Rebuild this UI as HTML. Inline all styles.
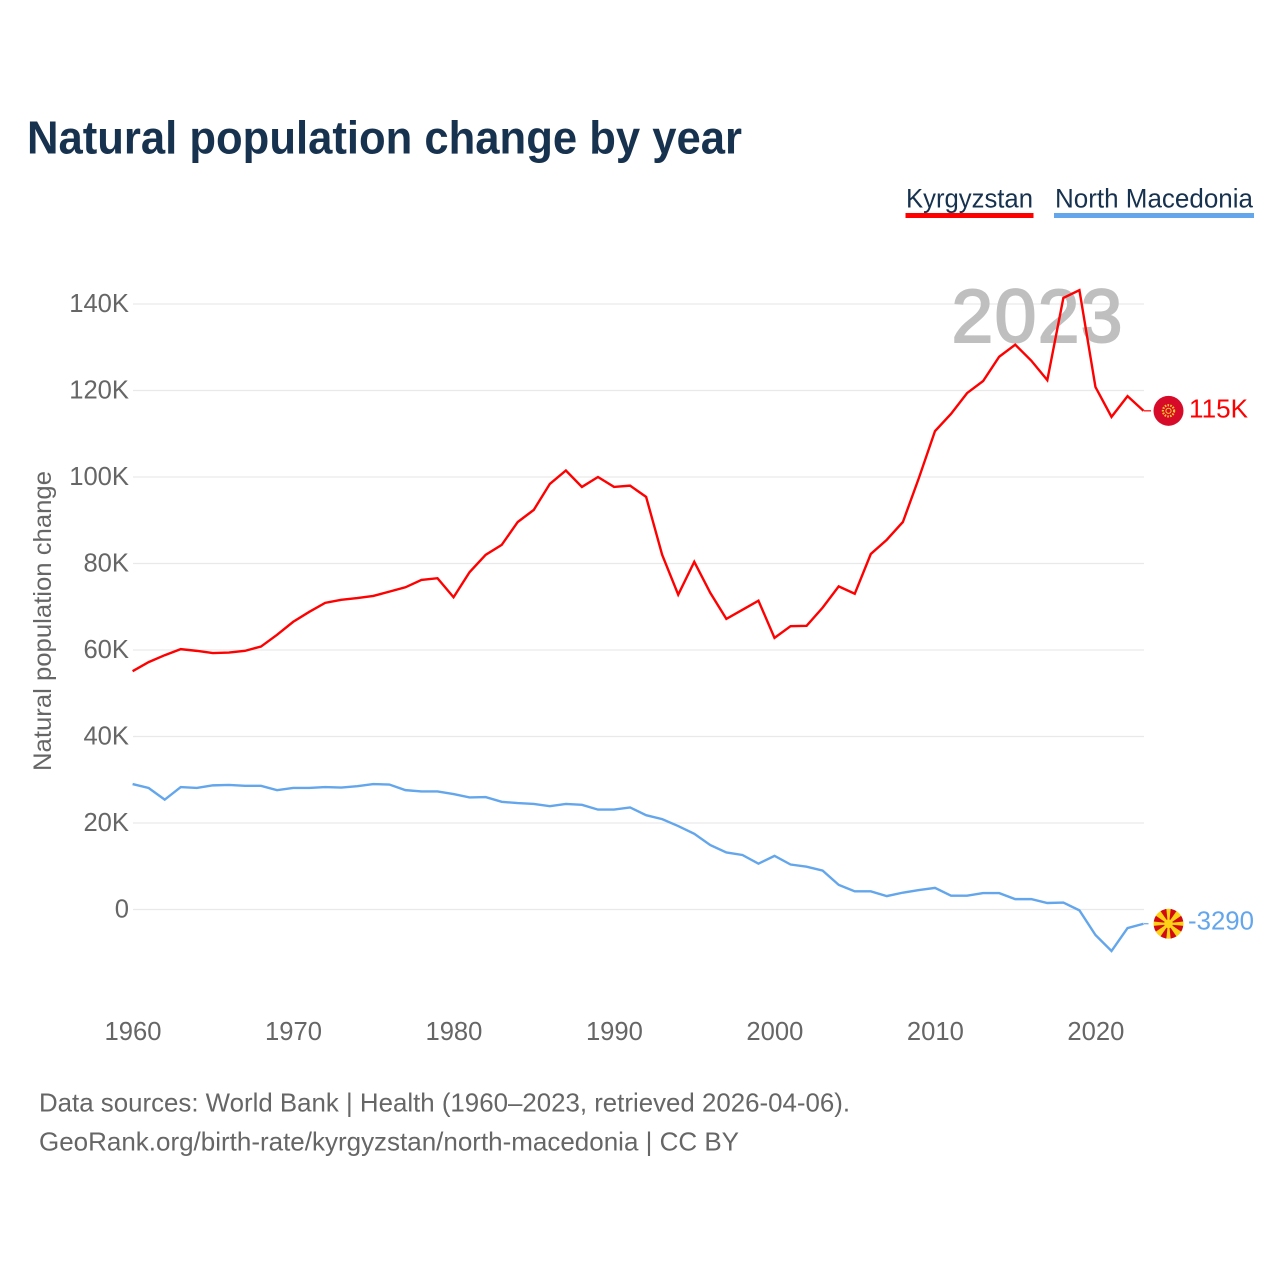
<!DOCTYPE html>
<html lang="en">
<head>
<meta charset="utf-8">
<title>Natural population change by year</title>
<style>
html,body{margin:0;padding:0;background:#fff;width:1280px;height:1280px;overflow:hidden}
svg{display:block;font-family:"Liberation Sans",sans-serif}
</style>
</head>
<body>
<svg id="chart" xmlns="http://www.w3.org/2000/svg" width="1280" height="1280" viewBox="0 0 1280 1280">
  <rect width="1280" height="1280" fill="#ffffff"/>
  <text x="27" y="153.5" font-size="46" font-weight="700" fill="#17324f" textLength="715" lengthAdjust="spacingAndGlyphs">Natural population change by year</text>
  <g>
    <text x="906" y="207.5" font-size="27" fill="#17324f" textLength="127" lengthAdjust="spacingAndGlyphs">Kyrgyzstan</text>
    <rect x="905.5" y="213" width="128" height="5" fill="#ff0000"/>
  </g>
  <g>
    <text x="1055" y="207.5" font-size="27" fill="#17324f" textLength="198" lengthAdjust="spacingAndGlyphs">North Macedonia</text>
    <rect x="1054" y="213" width="200" height="5" fill="#63a6ec"/>
  </g>
  <g id="grid"></g>
  <text x="1037" y="342" font-size="75" font-weight="400" fill="#bfbfbf" stroke="#bfbfbf" stroke-width="2" text-anchor="middle" textLength="171" lengthAdjust="spacing">2023</text>
  <g id="yticks"></g>
  <g id="xticks"></g>
  <text transform="translate(51 621) rotate(-90)" font-size="25" fill="#666666" text-anchor="middle" textLength="300" lengthAdjust="spacingAndGlyphs">Natural population change</text>
  <g id="series"></g>
  <g id="ends"></g>
  <text x="39" y="1111.5" font-size="26" fill="#666666" textLength="811" lengthAdjust="spacingAndGlyphs">Data sources: World Bank | Health (1960–2023, retrieved 2026-04-06).</text>
  <text x="39" y="1150.5" font-size="26" fill="#666666" textLength="700" lengthAdjust="spacingAndGlyphs">GeoRank.org/birth-rate/kyrgyzstan/north-macedonia | CC BY</text>
</svg>
<script>
const startYear = 1960;
const xTickYears = [1960, 1970, 1980, 1990, 2000, 2010, 2020];
const yTickValues = [0, 20000, 40000, 60000, 80000, 100000, 120000, 140000];
const yTickLabels = ['0', '20K', '40K', '60K', '80K', '100K', '120K', '140K'];
const kyrgyzstanValues = [55100,57200,58800,60200,59800,59300,59400,59800,60800,63500,66500,68800,70900,71600,72000,72500,73500,74500,76200,76600,72200,78000,82000,84300,89600,92400,98400,101500,97700,100000,97700,98000,95400,82000,72800,80400,73200,67200,69300,71400,62800,65500,65600,69800,74700,73000,82200,85500,89600,99800,110600,114600,119400,122200,127800,130600,126900,122400,141400,143200,120800,113900,118700,115300];
const macedoniaValues = [29000,28100,25400,28300,28100,28700,28800,28600,28600,27600,28100,28100,28300,28200,28500,29000,28900,27600,27300,27300,26700,25900,26000,24900,24600,24400,23900,24400,24200,23100,23100,23600,21800,20900,19300,17500,14900,13200,12600,10600,12400,10400,9900,9000,5700,4200,4200,3100,3900,4500,5000,3200,3200,3800,3800,2400,2400,1500,1600,-200,-5900,-9600,-4300,-3290];
const kyrgyzstanEndLabel = '115K';
const macedoniaEndLabel = '-3290';

const NS = 'http://www.w3.org/2000/svg';
const xScale = year => 132.6 + (year - 1960) * (1143.6 - 132.6) / 63;
const yScale = value => 909.5 - value * (909.5 - 304) / 140000;
function make(tag, attrs, parent, text) {
  const el = document.createElementNS(NS, tag);
  for (const k in attrs) el.setAttribute(k, attrs[k]);
  if (text !== undefined) el.textContent = text;
  parent.appendChild(el);
  return el;
}
const grid = document.getElementById('grid');
const yticks = document.getElementById('yticks');
const xticks = document.getElementById('xticks');
const series = document.getElementById('series');
const ends = document.getElementById('ends');

yTickValues.forEach((v, i) => {
  const line = make('line', {x1: 133, x2: 1144, y1: yScale(v), y2: yScale(v), stroke: '#e9e9e9', 'stroke-width': 1.3}, grid);
  
  
  const label = make('text', {x: 129, y: yScale(v) + 8, 'font-size': 25.6, fill: '#666666', 'text-anchor': 'end'}, yticks, yTickLabels[i]);
  
  
});
xTickYears.forEach(y => {
  const label = make('text', {x: xScale(y) + 0.4, y: 1040, 'font-size': 25.6, fill: '#666666', 'text-anchor': 'middle'}, xticks, String(y));
  
  
});
function pathFor(values) {
  return values.map((v, i) => (i ? 'L' : 'M') + xScale(startYear + i).toFixed(2) + ' ' + yScale(v).toFixed(2)).join(' ');
}
const kgLine = make('path', {d: pathFor(kyrgyzstanValues), fill: 'none', stroke: '#ff0000', 'stroke-width': 2.4, 'stroke-linejoin': 'miter'}, series);


const mkLine = make('path', {d: pathFor(macedoniaValues), fill: 'none', stroke: '#63a6ec', 'stroke-width': 2.4, 'stroke-linejoin': 'miter'}, series);



function endMarker(value, colour, text, textX, textW, textDy) {
  const cy = yScale(value);
  const g = make('g', {}, ends);
  const lead = make('line', {x1: 1144, x2: 1151, y1: cy, y2: cy, stroke: colour, 'stroke-width': 1.2}, g);
  
  
  const label = make('text', {x: textX, y: cy + textDy, 'font-size': 26, fill: colour, textLength: textW, lengthAdjust: 'spacingAndGlyphs'}, g, text);
  
  
  return {g, cy};
}
const kgEnd = endMarker(kyrgyzstanValues[kyrgyzstanValues.length - 1], '#ff0000', kyrgyzstanEndLabel, 1189, 59, 6.6);
const kgFlag = make('g', {transform: 'translate(1168.5 ' + kgEnd.cy + ')'}, kgEnd.g);


make('circle', {r: 15, fill: '#d80a2a'}, kgFlag);
make('circle', {r: 5.6, fill: 'none', stroke: '#f5c828', 'stroke-width': 2.2, 'stroke-dasharray': '1.6 1.2'}, kgFlag);
make('circle', {r: 2.6, fill: 'none', stroke: '#f5c828', 'stroke-width': 1}, kgFlag);

const mkEnd = endMarker(macedoniaValues[macedoniaValues.length - 1], '#63a6ec', macedoniaEndLabel, 1188, 66, 5.8);
const mkFlag = make('g', {transform: 'translate(1168.5 ' + mkEnd.cy + ')'}, mkEnd.g);


make('circle', {r: 15, fill: '#d20a11'}, mkFlag);
[0, 45, 90, 135, 180, 225, 270, 315].forEach(a => {
  const wide = a % 90 === 0 ? 2.2 : 3.4;
  make('polygon', {points: '-0.6,0 0.6,0 ' + wide + ',-15 ' + (-wide) + ',-15', fill: '#fcd116', transform: 'rotate(' + a + ')'}, mkFlag);
});
make('circle', {r: 4.4, fill: '#fcd116'}, mkFlag);
const mask = make('circle', {r: 17.5, fill: 'none', stroke: '#ffffff', 'stroke-width': 5}, mkFlag);


</script>
</body>
</html>
